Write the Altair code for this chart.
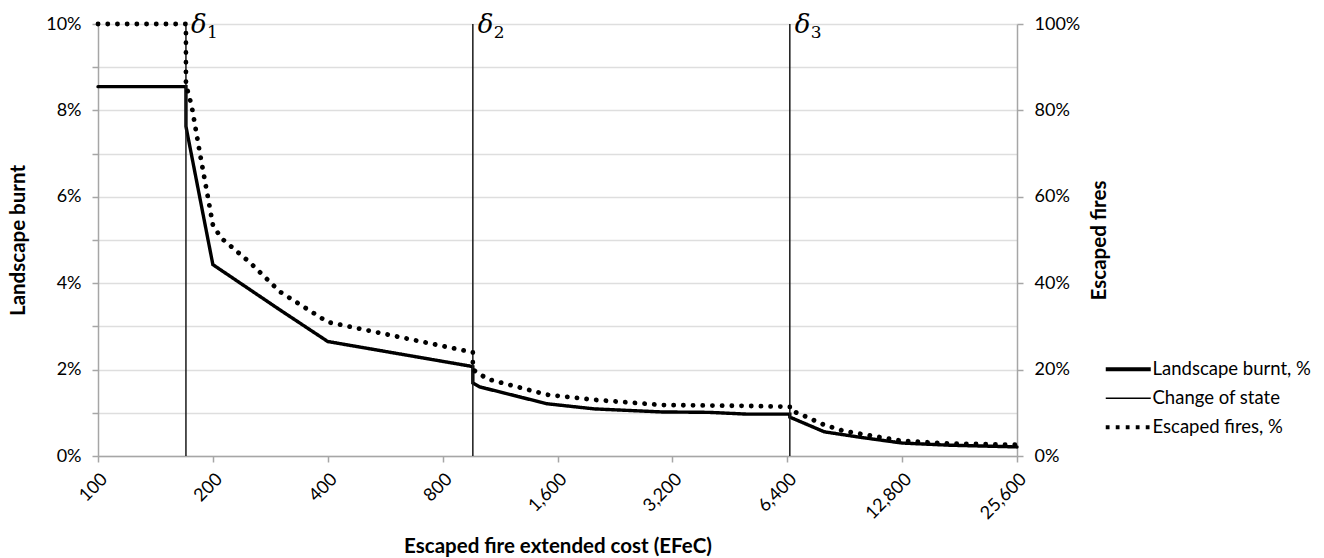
import altair as alt
import pandas as pd

SERIES = ["Landscape burnt, %", "Change of state", "Escaped fires, %"]
x_ticks = [100, 200, 400, 800, 1600, 3200, 6400, 12800, 25600]

burnt_x = [100, 170, 170, 200, 300, 400, 960, 960, 1000, 1500, 2000, 3000, 4000, 5000,
           6500, 6500, 8000, 10000, 12800, 17000, 25600]
burnt_y = [0.0855, 0.0855, 0.0763, 0.0443, 0.0338, 0.0265, 0.0207, 0.0169, 0.0160, 0.0121,
           0.0109, 0.0102, 0.0101, 0.0097, 0.0097, 0.0090, 0.0056, 0.0043, 0.0030, 0.0025, 0.0021]

fires_x = [100, 170, 170, 176, 185, 194, 200, 210, 250, 300, 400, 960, 960, 1050, 1500, 2000,
           3000, 5000, 6500, 6500, 7000, 8000, 9000, 10000, 12800, 17000, 25600]
fires_y = [1.0, 1.0, 0.86, 0.81, 0.70, 0.60, 0.535, 0.505, 0.448, 0.38, 0.31, 0.24, 0.20, 0.178,
           0.142, 0.13, 0.118, 0.116, 0.114, 0.107, 0.095, 0.072, 0.058, 0.051, 0.035, 0.029, 0.026]

delta_x = [170, 960, 6500]
delta_sub = ["1", "2", "3"]

burnt = pd.DataFrame({"x": burnt_x, "y": burnt_y, "i": list(range(len(burnt_x))), "s": SERIES[0]})
fires = pd.DataFrame({"x": fires_x, "y": fires_y, "i": list(range(len(fires_x))), "s": SERIES[2]})
deltas = pd.DataFrame({"x": delta_x, "sub": delta_sub, "s": SERIES[1], "d": "δ"})

FONT = "Lato"
GRAY = "#a6a6a6"
LABEL = 18
TITLE = 20.5

xenc = alt.X(
    "x:Q",
    scale=alt.Scale(type="log", base=2, domain=[100, 25600], nice=False),
    axis=alt.Axis(
        values=x_ticks, format=",", labelAngle=315, labelFont=FONT, labelFontSize=LABEL,
        labelColor="black", labelPadding=8, title="Escaped fire extended cost (EFeC)",
        titleFont=FONT, titleFontSize=TITLE, titleFontWeight="bold", titleColor="black",
        titlePadding=14, grid=False, tickSize=6, tickColor=GRAY, domainColor=GRAY,
        domainWidth=1.5, tickWidth=1.5,
    ),
)

dash = alt.StrokeDash(
    "s:N",
    scale=alt.Scale(domain=SERIES, range=[[1, 0], [1, 0], [3.8, 6.2]]),
    legend=alt.Legend(
        title=None, orient="none", legendX=1021, legendY=336,
        symbolType="stroke", symbolSize=2025, symbolStrokeColor="black",
        symbolStrokeWidth={"expr": "datum.value === 'Change of state' ? 1.5 : 3.8"},
        labelFont=FONT, labelFontSize=18.5, labelColor="black", rowPadding=10,
        labelOffset=15, padding=0,
    ),
)

left_axis = alt.Axis(
    values=[i / 100 for i in range(11)],
    labelExpr="round(datum.value*100) % 2 == 0 ? format(datum.value, '.0%') : ''",
    title="Landscape burnt", titleFont=FONT, titleFontSize=TITLE, titleFontWeight="bold",
    titleColor="black", titlePadding=17, labelFont=FONT, labelFontSize=LABEL, labelColor="black",
    labelPadding=11, tickSize=6, tickColor=GRAY, domainColor=GRAY, domainWidth=1.5,
    tickWidth=1.5, gridColor="#dedede", gridWidth=1.5,
)
right_axis = alt.Axis(
    orient="right", values=[0, 0.2, 0.4, 0.6, 0.8, 1.0], format=".0%",
    title="Escaped fires", titleAngle=270, titleFont=FONT, titleFontSize=TITLE,
    titleFontWeight="bold", titleColor="black", titlePadding=30, labelFont=FONT,
    labelFontSize=LABEL, labelColor="black", labelPadding=11, tickSize=6, tickColor=GRAY,
    domainColor=GRAY, domainWidth=1.5, tickWidth=1.5, grid=False,
)

yleft = alt.Scale(domain=[0, 0.1], nice=False)

burnt_line = alt.Chart(burnt).mark_line(color="black", strokeWidth=3.4, strokeCap="round").encode(
    x=xenc, y=alt.Y("y:Q", scale=yleft, axis=left_axis), order="i:Q", strokeDash=dash
)
rules = alt.Chart(deltas).mark_rule(color="#1a1a1a", strokeWidth=1.5).encode(
    x=xenc, strokeDash=dash
)
delta_text = alt.Chart(deltas).mark_text(
    font="DejaVu Serif", fontStyle="italic", fontSize=26, align="left",
    baseline="alphabetic", dx=5, dy=9, color="black"
).encode(x=xenc, y=alt.datum(0.1, scale=yleft), text="d:N")
sub_text = alt.Chart(deltas).mark_text(
    font="DejaVu Serif", fontSize=17, align="left", baseline="alphabetic",
    dx=21, dy=14, color="black"
).encode(x=xenc, y=alt.datum(0.1, scale=yleft), text="sub:N")

left_group = alt.layer(burnt_line, rules, delta_text, sub_text)

fires_line = alt.Chart(fires).mark_line(
    color="black", strokeWidth=4.8, strokeCap="round", strokeDash=[0.1, 9.6]
).encode(
    x=xenc,
    y=alt.Y("y:Q", scale=alt.Scale(domain=[0, 1], nice=False), axis=right_axis),
    order="i:Q",
)

chart = (
    alt.layer(left_group, fires_line)
    .resolve_scale(y="independent")
    .properties(
        width=919, height=432,
        padding={"left": 98, "top": 24, "right": 307, "bottom": 102},
        autosize=alt.AutoSizeParams(type="none"),
        background="white",
    )
    .configure_view(strokeWidth=0)
)

chart.save("out.html", embed_options={"renderer": "svg", "actions": False})
